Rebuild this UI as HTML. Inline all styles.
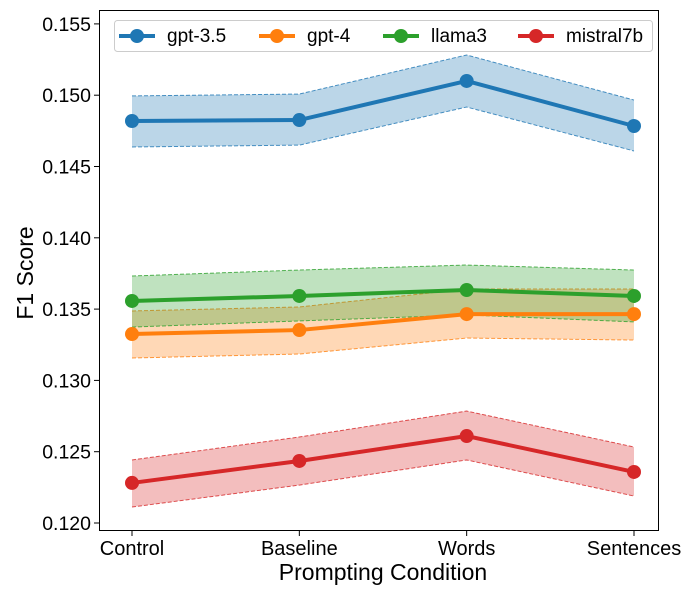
<!DOCTYPE html>
<html><head><meta charset="utf-8"><style>
body{margin:0;background:#fff;font-family:"Liberation Sans",sans-serif}
svg text{font-family:"Liberation Sans",sans-serif}
</style></head><body>
<svg id="chart" width="700" height="600" xmlns="http://www.w3.org/2000/svg">
<rect x="0" y="0" width="700" height="600" fill="#fff"/>
<g id="bands"></g><g id="lines"></g>
<rect x="99.5" y="10.5" width="559" height="520" fill="none" stroke="#000" stroke-width="1"/>
<g id="axes"></g>
<text x="383" y="580" font-size="23" text-anchor="middle">Prompting Condition</text>
<text x="0" y="0" font-size="23" text-anchor="middle" transform="translate(33,273) rotate(-90)">F1 Score</text>
<g id="legend"></g>
</svg>
<script>
const categories=["Control","Baseline","Words","Sentences"];
const seriesNames=["gpt-3.5","gpt-4","llama3","mistral7b"];
const gpt35Mean=[0.14819,0.14826,0.15100,0.14784];
const gpt35Upper=[0.14995,0.15008,0.15282,0.14966];
const gpt35Lower=[0.14637,0.14650,0.14917,0.14609];
const gpt4Mean=[0.13325,0.13353,0.13465,0.13465];
const gpt4Upper=[0.13487,0.13515,0.13641,0.13641];
const gpt4Lower=[0.13157,0.13185,0.13297,0.13283];
const llama3Mean=[0.13557,0.13592,0.13634,0.13592];
const llama3Upper=[0.13732,0.13774,0.13809,0.13774];
const llama3Lower=[0.13374,0.13417,0.13459,0.13410];
const mistralMean=[0.12281,0.12435,0.12610,0.12358];
const mistralUpper=[0.12442,0.12603,0.12785,0.12533];
const mistralLower=[0.12112,0.12266,0.12442,0.12189];
const yTicks=[0.120,0.125,0.130,0.135,0.140,0.145,0.150,0.155];
const yTickLabels=["0.120","0.125","0.130","0.135","0.140","0.145","0.150","0.155"];

const colors=["#1f77b4","#ff7f0e","#2ca02c","#d62728"];
const NS="http://www.w3.org/2000/svg";
function x(i){return 132+i*(634-132)/(categories.length-1);}
function y(v){return 523-(v-0.120)/0.005*71.3;}
function mk(t,a,p){const e=document.createElementNS(NS,t);for(const k in a)e.setAttribute(k,a[k]);p.appendChild(e);return e;}
const bands=document.getElementById('bands'),lines=document.getElementById('lines'),axes=document.getElementById('axes'),legend=document.getElementById('legend');
const all=[[gpt35Mean,gpt35Upper,gpt35Lower],[gpt4Mean,gpt4Upper,gpt4Lower],[llama3Mean,llama3Upper,llama3Lower],[mistralMean,mistralUpper,mistralLower]];
all.forEach((s,k)=>{
  const [m,u,l]=s;
  let d=u.map((v,i)=>(i?'L':'M')+x(i)+','+y(v)).join('')+l.map((v,i)=>i).reverse().map(i=>'L'+x(i)+','+y(l[i])).join('')+'Z';
  const b=mk('path',{d:d,fill:colors[k],'fill-opacity':0.3,stroke:'none'},bands);
  
  
  [u,l].forEach((arr,j)=>{
    const e=mk('polyline',{points:arr.map((v,i)=>x(i)+','+y(v)).join(' '),fill:'none',stroke:colors[k],'stroke-width':1,'stroke-dasharray':'4,2','stroke-opacity':0.8},bands);
    
    
  });
});
all.forEach((s,k)=>{
  const m=s[0];
  const ln=mk('polyline',{points:m.map((v,i)=>x(i)+','+y(v)).join(' '),fill:'none',stroke:colors[k],'stroke-width':4},lines);
  
  
  m.forEach((v,i)=>{
    const c=mk('circle',{cx:x(i),cy:y(v),r:7,fill:colors[k]},lines);
    
    
  });
});
yTicks.forEach((t,i)=>{
  const yy=y(t);
  const tk=mk('line',{x1:94,x2:99,y1:yy,y2:yy,stroke:'#000'},axes);
  
  
  const tx=mk('text',{x:91,y:yy+7,'font-size':19.5,'text-anchor':'end'},axes);
  tx.textContent=yTickLabels[i];
  
  
});
categories.forEach((c,i)=>{
  const tk=mk('line',{x1:x(i),x2:x(i),y1:531,y2:536,stroke:'#000'},axes);
  
  
  const tx=mk('text',{x:x(i),y:555,'font-size':20,'text-anchor':'middle'},axes);
  tx.textContent=c;
  
  
});
const lb=mk('rect',{x:114.5,y:20.5,width:538,height:31,rx:3,fill:'#fff','fill-opacity':0.8,stroke:'#ccc'},legend);


const lx=[119,259,383,518];
seriesNames.forEach((n,k)=>{
  const g=mk('g',{},legend);
  
  
  mk('line',{x1:lx[k],x2:lx[k]+36,y1:36,y2:36,stroke:colors[k],'stroke-width':4},g);
  mk('circle',{cx:lx[k]+18,cy:36,r:7,fill:colors[k]},g);
  const t=mk('text',{x:lx[k]+48,y:42,'font-size':19},g);
  t.textContent=n;
});
</script>
</body></html>
